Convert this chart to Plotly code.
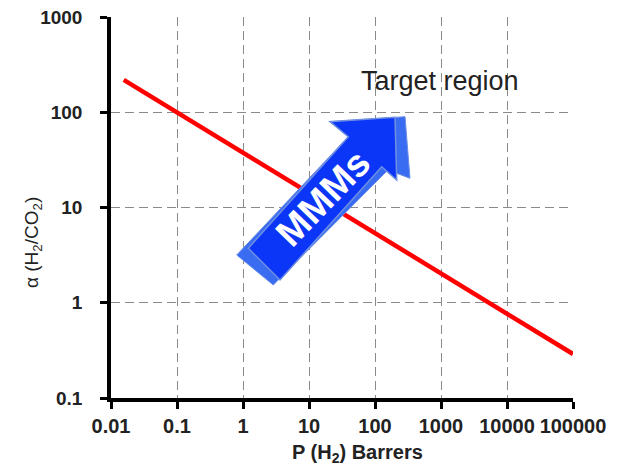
import plotly.graph_objects as go

# Data
line_x = [0.0156, 100000]
line_y = [219, 0.29]
x_tickvals = [0.01, 0.1, 1, 10, 100, 1000, 10000, 100000]
x_ticktext = ["0.01", "0.1", "1", "10", "100", "1000", "10000", "100000"]
y_tickvals = [0.1, 1, 10, 100, 1000]
y_ticktext = ["0.1", "1", "10", "100", "1000"]

OFFX, OFFY = 8, 8  # page body margin
W, H = 617, 471
PX0, PX1, PY0, PY1 = 111, 573, 17, 398  # plot area in window pixels
L, R, T, B = PX0 - OFFX, OFFX + W - PX1, PY0 - OFFY, OFFY + H - PY1
FONT = "Liberation Sans, Arial"

def to_paper(px, py):
    return (px - PX0) / (PX1 - PX0), (PY1 - py) / (PY1 - PY0)

fig = go.Figure()
fig.add_trace(go.Scatter(x=line_x, y=line_y, mode="lines",
                         line=dict(color="#ff0000", width=4.5), showlegend=False))

def path_of(pts):
    s = ""
    for i, (px, py) in enumerate(pts):
        qx, qy = to_paper(px, py)
        s += ("M" if i == 0 else "L") + f"{qx:.4f},{qy:.4f} "
    return s + "Z"

# arrow outline (window pixels)
front = [(248.3, 248.3), (348.3, 136.7), (330.0, 121.7), (395.0, 117.3),
         (396.7, 180.0), (381.7, 166.7), (280.0, 280.0)]
shadow = [(236.7, 255.0), (348.3, 136.7), (330.0, 121.7), (405.0, 116.7),
          (410.0, 178.3), (388.0, 170.0), (273.3, 285.0)]
fig.add_shape(type="path", xref="paper", yref="paper", path=path_of(shadow),
              fillcolor="#3a6cf2", line=dict(color="#6b8fe6", width=1))
fig.add_shape(type="path", xref="paper", yref="paper", path=path_of(front),
              fillcolor="#0b35f7", line=dict(color="#6f8fe0", width=1.5))

def note(px, py, text, size, color="#222", angle=0):
    x, y = to_paper(px, py)
    fig.add_annotation(x=x, y=y, xref="paper", yref="paper", text=text, showarrow=False,
                       xanchor="center", yanchor="middle", textangle=angle,
                       font=dict(family=FONT, size=size, color=color))

note(323, 198, "<b>MMMs</b>", 38, "white", -46)
note(440, 81, "Target region", 27)
note(357, 453, "<b>P (H<sub>2</sub>) Barrers</b>", 20)
note(33, 243, "α (H<sub>2</sub>/CO<sub>2</sub>)", 19, angle=-90)

axis_common = dict(showline=True, linecolor="black", linewidth=3.5, ticks="outside",
                   ticklen=7, tickwidth=2.5, tickcolor="black", showgrid=True,
                   gridcolor="#8a8a8a", gridwidth=1, griddash="9px,5px", zeroline=False,
                   ticklabeloverflow="allow", automargin=False)

fig.update_xaxes(type="log", range=[-2, 5], tickvals=x_tickvals,
                 ticktext=[f"<b>{t}</b>" for t in x_ticktext], ticklabelstandoff=0,
                 tickfont=dict(family=FONT, size=20, color="#222"), **axis_common)
fig.update_yaxes(type="log", range=[-1, 3], tickvals=y_tickvals,
                 ticktext=[f"<b>{t}</b>" for t in y_ticktext], ticklabelstandoff=14,
                 tickfont=dict(family=FONT, size=19, color="#222"), **axis_common)

fig.update_layout(width=W, height=H,
                  margin=dict(l=L, r=R, t=T, b=B, autoexpand=False),
                  plot_bgcolor="white", paper_bgcolor="white", showlegend=False)

fig.write_html("out.html")
